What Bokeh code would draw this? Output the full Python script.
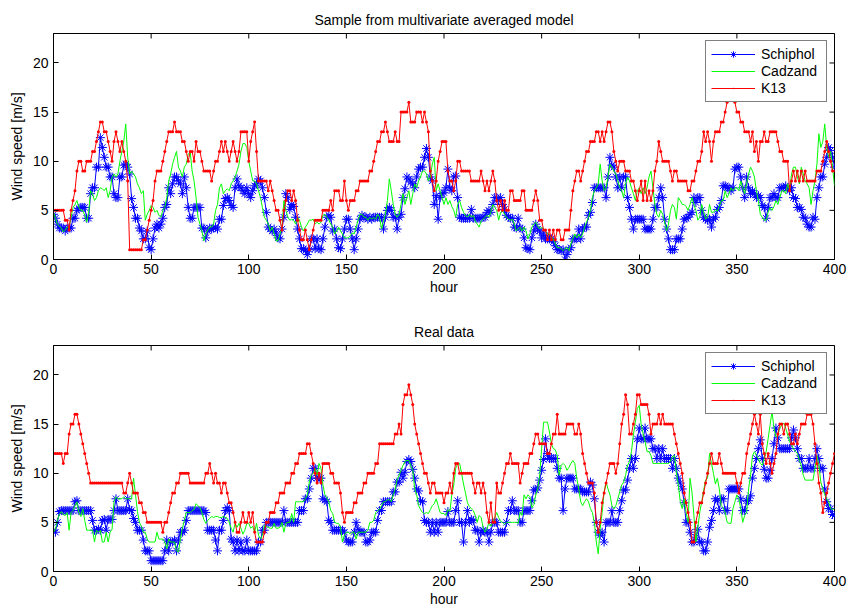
import math
from bokeh.plotting import figure
from bokeh.models import FixedTicker, Range1d
from bokeh.layouts import column
from bokeh.embed import file_html
from bokeh.resources import INLINE

# ---------------- data (hourly wind speed, m/s) ----------------
hours = list(range(401))
x_ticks = [0, 50, 100, 150, 200, 250, 300, 350, 400]
y_ticks = [0, 5, 10, 15, 20]
x_limits = [0, 400]
y_limits = [0, 23]
titles = ["Sample from multivariate averaged model", "Real data"]
station_names = ["Schiphol", "Cadzand", "K13"]

sample_schiphol = [
    4.6,4.2,3.6,3.2,3.2,3.2,2.9,3.2,3.2,3.2,
    4.2,4.2,5.0,5.2,5.3,5.3,5.3,4.2,4.2,6.7,
    7.3,7.3,9.4,9.4,12.4,11.4,10.4,9.4,9.4,8.4,
    8.4,6.7,6.3,6.3,8.4,8.4,9.6,9.7,9.4,8.7,
    6.2,5.3,4.2,4.2,3.2,2.9,2.1,2.1,2.9,1.2,
    1.0,2.1,3.2,3.6,3.2,3.6,4.2,5.3,5.6,7.3,
    6.7,7.7,8.4,8.4,8.0,7.7,6.7,8.4,7.3,5.3,
    4.2,4.2,5.3,5.3,5.3,5.3,3.2,3.2,2.2,2.9,
    3.2,3.1,3.2,3.3,3.1,4.1,4.1,5.5,6.2,6.3,
    6.0,5.5,5.3,7.3,8.2,7.5,7.3,7.0,6.7,7.3,
    6.7,6.3,7.0,7.5,7.7,8.2,8.0,7.3,6.3,4.8,
    3.3,3.1,2.9,3.1,2.7,2.2,2.1,3.1,4.3,6.7,
    6.3,5.1,5.6,5.4,4.3,3.1,2.1,1.1,1.1,0.9,
    0.5,1.0,2.1,2.1,1.1,2.1,1.1,1.0,2.1,3.3,
    4.3,4.5,4.3,2.9,3.1,2.1,1.2,1.1,2.1,3.1,
    4.1,4.1,3.1,2.1,1.0,2.1,3.1,4.1,4.5,4.3,
    4.3,4.1,4.3,4.1,4.3,4.3,4.3,4.3,4.3,3.1,
    4.3,5.0,5.3,5.0,4.3,4.3,3.1,4.3,4.6,6.3,
    7.2,8.4,8.2,7.9,7.7,7.3,8.4,9.2,9.4,9.4,
    10.4,11.3,10.4,8.4,8.0,5.6,6.5,4.1,6.3,6.7,
    6.8,7.3,9.2,7.3,7.0,8.4,8.5,6.3,4.3,4.2,
    4.2,4.2,4.2,4.2,5.1,4.2,4.2,4.2,4.2,4.2,
    4.3,4.3,4.8,5.0,4.8,5.6,6.3,6.3,6.0,6.3,
    5.6,5.1,4.5,4.3,4.2,4.2,3.3,3.2,4.2,3.2,
    3.1,2.2,1.2,1.1,1.0,2.2,2.9,3.6,3.1,2.9,
    2.2,2.7,2.1,2.1,2.1,2.1,1.8,1.4,1.0,1.0,
    0.9,1.0,0.0,0.5,1.0,1.2,2.1,2.1,2.1,3.1,
    2.1,3.1,3.3,3.3,4.5,4.8,5.8,7.3,7.3,7.3,
    7.3,7.3,7.3,6.3,8.4,10.4,9.6,9.4,8.4,7.3,
    8.4,7.3,8.4,8.4,6.3,5.3,4.1,3.1,4.1,4.1,
    4.1,4.1,4.1,3.1,3.1,3.1,3.1,4.1,5.3,5.3,
    6.3,7.3,6.3,4.1,3.1,2.1,1.0,1.0,1.0,2.1,
    2.1,2.1,3.1,4.1,4.2,4.3,4.6,4.8,6.3,5.8,
    6.3,6.3,5.0,4.3,4.1,4.0,4.1,3.3,4.1,4.3,
    5.1,5.3,6.0,7.5,7.5,7.3,7.3,7.0,7.3,9.2,
    9.4,9.4,8.4,7.3,6.3,8.4,7.3,6.7,7.0,6.7,
    6.3,6.5,6.3,5.5,5.3,4.2,5.3,6.3,6.3,6.7,
    6.3,6.3,7.3,7.3,7.3,7.5,7.3,7.0,7.3,6.3,
    6.2,5.3,5.3,5.1,4.3,4.2,3.6,3.3,3.3,4.3,
    4.1,6.3,7.3,8.4,8.4,9.7,10.4,11.4,11.1,10.4,
    9.4]

sample_cadzand = [
    4.8,4.2,3.6,3.4,3.2,2.8,3.0,3.3,3.3,4.3,
    5.3,5.6,6.0,5.3,5.0,5.0,4.5,3.8,4.8,7.0,
    6.7,6.0,6.3,7.0,7.3,7.2,7.0,7.3,6.3,7.0,
    8.4,8.7,8.4,8.7,10.0,11.0,12.0,13.8,10.4,8.7,
    9.0,8.7,8.4,7.7,7.3,6.7,7.0,4.0,4.6,5.0,
    5.5,5.3,4.8,5.0,4.5,4.3,5.0,5.3,6.3,8.0,
    8.7,9.7,10.4,11.0,9.4,9.0,8.4,9.4,9.7,10.7,
    11.0,9.0,8.0,6.3,4.3,3.6,2.9,1.9,2.6,3.0,
    3.3,3.3,3.6,5.0,5.6,7.3,7.7,6.7,7.0,7.2,
    7.0,7.7,8.0,8.4,9.0,9.7,11.0,11.8,11.8,11.4,
    10.0,9.0,8.0,8.0,7.7,7.0,6.3,5.3,4.3,4.0,
    3.6,2.9,3.3,2.6,1.9,1.9,2.6,3.3,6.0,5.0,
    4.3,4.0,4.1,4.0,3.6,4.3,4.0,3.3,2.9,3.3,
    3.6,4.0,4.0,4.1,3.6,3.8,3.6,3.8,4.5,4.6,
    4.3,4.0,3.6,3.3,2.6,2.9,3.3,2.9,2.6,2.2,
    2.2,2.2,2.4,2.7,2.6,3.3,4.0,4.6,4.6,4.3,
    4.3,4.0,4.3,4.1,4.3,4.1,4.6,4.3,3.1,3.9,
    4.6,6.0,8.2,7.0,5.6,4.6,4.3,4.6,5.6,6.7,
    5.6,6.3,7.0,5.6,6.7,7.7,7.3,8.0,8.4,9.0,
    9.0,8.7,8.0,8.4,9.7,10.4,7.0,7.7,7.0,6.3,
    5.6,6.3,5.6,6.0,5.4,5.0,4.3,5.6,6.0,5.3,
    4.8,4.5,4.3,4.6,4.3,4.5,3.9,3.6,3.3,3.9,
    4.1,4.3,4.5,4.3,4.8,5.6,5.3,5.0,4.0,4.8,
    5.0,4.6,4.3,4.1,4.0,4.1,3.6,2.9,3.1,3.3,
    2.9,3.3,2.9,2.1,2.6,3.3,3.6,3.8,3.4,3.1,
    3.3,3.1,2.9,2.6,2.6,2.2,2.1,1.6,1.2,1.2,
    1.1,0.9,1.1,1.2,0.9,1.6,2.1,2.6,2.2,2.6,
    2.2,2.6,3.3,3.8,4.3,5.0,6.3,7.0,7.3,7.7,
    9.7,8.0,7.0,7.3,8.4,9.7,9.4,9.0,8.7,8.0,
    7.3,7.0,6.3,7.7,8.4,8.0,7.3,6.7,6.0,7.0,
    7.3,6.7,7.3,6.7,7.3,8.4,9.0,7.3,5.6,4.6,
    4.3,5.0,4.6,3.8,2.9,3.6,5.0,5.6,5.3,4.1,
    6.3,6.0,5.6,5.6,5.4,5.0,5.6,6.3,5.6,5.0,
    4.0,4.3,5.6,4.8,4.1,4.3,5.6,4.8,4.8,5.1,
    4.9,5.4,6.0,6.0,7.0,6.3,6.7,7.3,7.0,7.3,
    7.3,7.0,8.0,7.3,6.7,7.7,8.7,9.4,9.0,8.4,
    7.0,6.0,4.6,4.3,4.0,4.0,4.8,5.3,5.0,5.4,
    6.0,5.6,6.3,7.0,7.0,6.7,7.7,7.0,8.7,9.4,
    9.4,8.4,7.7,9.4,8.7,8.0,7.7,7.3,5.6,7.0,
    8.0,9.7,12.8,11.4,12.0,13.8,11.4,10.4,11.0,9.4,
    7.5]

sample_k13 = [
    5,5,5,5,5,5,4,4,3,5,
    6,7,9,10,10,9,9,10,10,10,
    11,11,12,13,14,14,13,13,12,11,
    10,12,13,12,11,12,11,10,8,1,
    1,1,1,1,1,1,2,2,3,4,
    5,6,8,9,9,9,10,11,12,13,
    13,13,14,13,13,13,12,12,11,10,
    11,11,10,12,11,11,10,9,9,9,
    9,8,9,10,10,11,12,11,12,11,
    10,11,12,11,10,11,13,13,13,13,
    10,12,13,14,11,8,8,8,8,8,
    7,8,7,6,5,5,4,3,5,6,
    7,7,6,7,6,4,3,2,2,3,
    2,1,2,3,4,4,4,4,5,5,
    5,5,6,5,7,7,7,6,6,8,
    6,5,6,6,6,7,7,8,8,8,
    8,8,9,9,10,11,12,12,13,13,
    14,13,12,12,12,13,12,12,15,15,
    15,15,16,14,14,14,15,15,15,14,
    15,14,13,9,8,7,8,10,11,12,
    12,12,9,8,8,7,8,10,10,9,
    9,9,9,9,8,8,8,8,8,9,
    8,7,8,7,8,9,8,6,5,6,
    5,6,5,5,7,7,6,6,6,6,
    7,7,5,5,5,5,6,7,6,4,
    4,3,3,2,3,2,3,2,3,3,
    2,2,3,3,3,5,7,8,9,9,
    8,9,10,11,11,12,12,12,13,13,
    12,13,12,13,14,14,13,11,10,9,
    10,10,10,9,9,9,8,8,7,6,
    7,8,6,8,6,7,6,7,9,10,
    12,11,10,10,10,10,9,8,9,9,
    8,8,8,8,8,7,7,8,8,9,
    10,10,11,13,12,13,12,10,12,13,
    13,13,14,14,15,16,17,17,17,16,
    15,15,14,14,13,13,13,12,13,11,
    12,10,12,12,13,12,12,13,13,13,
    13,12,11,11,10,10,10,7,8,9,
    8,9,8,9,8,9,8,8,8,8,
    8,9,9,9,10,11,12,11,10,9,
    9]

real_schiphol = [
    4.2,4.0,5.0,6.1,6.2,6.2,6.2,6.2,6.2,6.2,
    6.2,7.1,7.2,6.2,6.2,6.2,6.2,6.2,6.2,6.2,
    5.2,4.2,4.2,4.3,4.2,5.2,5.3,4.2,5.3,5.3,
    5.3,6.2,7.4,6.2,6.2,6.2,6.2,6.2,7.4,6.3,
    6.2,5.4,5.0,4.2,4.2,4.2,3.2,2.1,2.1,2.1,
    1.1,1.1,1.1,1.1,1.1,1.1,1.1,2.1,3.2,2.1,
    3.0,3.0,3.2,2.1,3.2,4.0,4.0,4.2,5.2,6.2,
    6.2,6.2,6.2,6.2,6.2,6.2,6.2,6.2,6.0,4.2,
    4.2,4.2,4.2,3.2,2.1,4.2,4.2,5.2,6.2,6.5,
    6.2,3.3,3.0,2.1,3.2,2.1,3.0,2.1,2.1,3.2,
    2.1,2.1,2.1,2.1,2.1,3.0,3.0,4.2,4.2,5.0,
    5.0,5.0,5.0,5.0,5.0,5.0,5.0,5.0,6.2,5.0,
    5.0,5.0,5.0,5.0,5.0,5.0,6.2,6.2,6.2,7.4,
    7.4,8.4,9.5,10.5,10.5,9.5,9.5,9.5,7.4,7.3,
    7.1,5.2,5.0,4.2,4.2,4.2,4.2,4.2,4.2,4.0,
    3.2,3.0,3.0,3.0,4.0,5.0,4.3,4.0,4.0,4.0,
    3.0,3.0,3.2,4.0,4.0,4.0,5.2,6.2,6.2,7.1,
    7.1,7.1,7.1,7.1,8.1,8.1,9.1,9.1,10.1,9.5,
    10.1,11.2,11.4,11.2,10.4,9.5,8.4,8.2,7.2,7.1,
    5.2,5.0,5.0,4.0,5.0,4.0,5.0,4.0,5.0,5.0,
    5.0,5.0,6.1,5.0,5.0,5.0,6.2,7.2,5.0,5.0,
    3.0,5.0,6.2,5.0,5.3,5.2,4.2,4.2,3.0,4.0,
    4.2,4.0,4.0,3.0,4.0,5.0,5.0,5.0,4.0,4.0,
    4.0,4.0,5.0,6.2,6.2,7.2,6.2,6.2,6.2,5.0,
    5.0,6.2,6.2,6.2,6.2,7.2,8.3,8.3,8.5,9.3,
    10.3,11.4,13.5,12.0,11.5,11.5,11.5,11.5,10.5,9.5,
    9.5,6.2,8.4,9.5,9.5,9.5,9.5,8.4,8.4,8.4,
    8.4,8.1,8.1,8.1,8.1,9.1,8.8,7.4,5.0,4.0,
    3.7,4.0,3.0,5.0,5.0,5.0,6.2,5.0,5.0,5.0,
    6.2,7.2,8.3,8.3,9.3,10.5,11.5,10.5,11.5,13.5,
    14.6,13.5,13.5,14.6,13.5,13.5,13.5,12.5,12.5,11.5,
    12.5,11.5,12.5,11.5,11.5,11.5,11.5,10.5,11.5,10.5,
    9.5,9.0,8.4,7.0,5.0,5.0,4.0,3.0,3.0,3.5,
    4.3,3.0,3.0,2.1,2.1,3.0,4.5,5.2,6.2,7.4,
    7.2,6.2,7.4,7.4,6.2,6.2,8.4,8.4,8.4,8.4,
    8.4,8.4,7.4,6.2,6.2,7.2,7.2,7.7,9.5,10.5,
    11.5,12.5,13.4,11.5,10.4,9.5,9.5,10.3,11.5,13.0,
    14.6,13.6,12.5,12.5,12.5,12.5,12.5,12.5,13.6,14.4,
    13.6,12.5,11.5,11.5,10.5,10.5,10.5,11.5,10.5,10.5,
    11.5,12.5,11.5,10.5,10.5,8.4,7.1,6.4,6.4,5.8,
    5.7]

real_cadzand = [
    4.0,4.3,5.2,5.8,6.1,5.8,5.7,6.0,4.2,6.0,
    6.2,6.7,7.1,6.0,5.6,6.4,5.2,4.2,4.2,4.2,
    4.2,3.0,4.2,4.0,4.2,3.0,3.0,4.0,3.0,4.0,
    4.3,7.1,7.6,7.4,7.4,7.4,7.6,7.4,7.4,7.4,
    7.4,9.5,7.8,6.1,5.0,4.6,4.0,4.0,3.3,3.0,
    3.0,3.0,3.0,4.0,3.3,3.3,3.3,3.0,2.3,3.3,
    3.0,3.0,3.0,2.1,2.0,3.3,4.4,5.2,6.0,6.0,
    6.0,6.2,6.3,6.9,6.7,6.5,6.0,5.3,4.9,5.2,
    5.4,5.6,5.5,5.6,5.6,5.5,5.5,5.6,5.5,5.4,
    5.0,4.4,4.0,4.9,4.5,4.9,4.4,3.8,4.2,4.9,
    4.9,4.4,4.6,4.0,4.9,3.7,3.3,3.7,4.7,4.6,
    4.5,4.4,4.4,4.9,4.4,4.4,4.5,5.0,4.0,4.9,
    5.0,5.0,5.9,5.0,7.1,7.1,7.1,7.1,7.1,7.4,
    7.8,9.1,9.8,10.0,10.5,9.8,11.0,10.5,8.8,7.8,
    7.5,7.1,6.2,5.9,5.0,4.9,4.9,4.5,3.0,3.7,
    4.0,4.0,3.8,4.0,4.0,3.3,4.0,4.0,4.0,4.0,
    4.0,4.2,5.0,5.0,5.2,6.0,6.2,6.3,6.7,7.1,
    7.1,7.3,7.3,7.1,7.8,8.4,9.3,9.8,10.3,10.8,
    11.2,11.3,11.3,10.8,10.3,8.4,7.8,6.7,6.3,6.0,
    5.9,6.0,5.9,6.3,6.7,6.9,7.4,6.7,6.0,5.9,
    5.9,5.7,6.3,6.1,7.8,8.8,10.5,11.0,11.0,10.0,
    8.9,8.0,7.0,6.6,6.4,6.2,5.7,5.0,5.7,5.5,
    4.5,4.0,4.3,5.0,4.6,5.0,5.5,6.0,5.5,5.1,
    5.0,4.8,5.0,5.0,5.0,5.0,5.0,5.0,4.9,6.0,
    5.7,7.8,7.4,7.8,7.6,6.5,6.8,7.8,8.4,9.8,
    12.5,15.2,15.2,15.2,14.2,13.0,12.5,12.4,11.8,9.8,
    10.8,11.0,10.8,10.3,10.6,11.0,11.3,11.0,9.5,8.4,
    7.1,6.7,7.1,7.4,7.1,6.4,6.0,5.0,3.0,1.8,
    4.4,6.0,8.1,9.1,8.4,7.8,6.7,6.4,6.7,7.4,
    8.1,8.8,9.1,9.8,10.8,11.2,12.2,13.9,15.2,16.6,
    16.9,14.9,14.0,13.2,12.2,12.2,11.8,11.0,11.0,11.0,
    11.0,11.0,11.0,11.0,11.0,11.0,11.2,11.7,11.8,10.1,
    8.8,7.1,6.4,7.4,6.0,5.0,9.5,8.1,5.7,3.0,
    4.5,6.0,7.1,8.3,9.3,9.5,12.0,11.0,10.0,8.9,
    9.5,8.4,6.7,6.5,6.0,5.0,4.9,4.9,6.4,7.1,
    7.8,7.4,6.4,5.0,5.7,6.0,8.4,9.8,11.8,12.2,
    11.8,11.5,11.0,10.8,11.5,12.2,13.5,14.9,16.3,14.6,
    13.7,13.9,14.6,14.9,15.1,14.6,13.9,13.2,12.9,12.5,
    12.2,12.0,11.3,10.8,9.8,9.3,9.3,9.3,9.3,9.3,
    10.5,11.8,10.8,9.1,8.4,7.8,7.4,7.1,6.4,6.3,
    6.4]

real_k13 = [
    12,12,12,12,12,11,12,12,14,15,
    15,16,16,15,14,13,12,11,10,9,
    9,9,9,9,9,9,9,9,9,9,
    9,9,9,9,9,9,8,8,9,10,
    9,8,8,8,7,7,6,6,5,5,
    5,5,5,5,5,5,4,5,5,6,
    7,8,8,9,9,10,10,10,10,10,
    9,9,9,9,9,9,9,9,10,10,
    11,10,9,10,9,9,8,9,9,8,
    7,7,6,5,4,4,5,6,5,5,
    6,5,6,4,3,3,3,3,4,5,
    5,6,6,6,7,7,8,8,8,9,
    9,9,10,10,11,11,12,12,12,12,
    13,13,12,11,10,9,10,9,11,11,
    11,11,10,10,9,9,9,8,6,5,
    6,6,6,6,7,7,8,8,8,9,
    9,10,10,10,10,11,11,13,13,13,
    13,13,13,13,13,14,14,15,14,17,
    18,18,19,18,17,15,14,13,12,11,
    10,10,9,8,9,9,8,8,8,8,
    7,8,8,9,8,10,11,11,10,10,
    10,10,10,10,10,9,8,9,9,8,
    9,8,6,5,7,5,5,9,8,8,
    9,10,11,11,12,11,11,11,11,9,
    10,11,11,11,12,12,13,14,14,13,
    13,13,13,12,12,13,14,14,16,14,
    14,14,14,15,15,15,15,14,14,15,
    14,12,11,10,9,9,9,8,5,4,
    5,7,8,9,10,11,11,11,10,11,
    13,15,16,18,17,14,14,15,16,18,
    18,17,17,17,17,16,14,15,15,15,
    16,15,16,15,15,15,15,15,14,13,
    12,11,10,8,7,6,5,3,3,5,
    6,7,7,8,9,10,11,12,11,11,
    11,12,11,10,10,10,10,10,10,10,
    9,8,9,10,10,12,13,14,15,16,
    15,14,16,13,12,11,12,11,10,11,
    12,14,15,15,14,15,15,14,13,13,
    14,13,14,15,15,15,16,16,16,15,
    13,11,9,8,6,7,8,9,10,11,
    12]

# ---------------- styling ----------------
FONT = "Liberation Sans"
FS = "14px"
C_SCH, C_CAD, C_K13 = "#0000ff", "#00ff00", "#ff0000"


def style_axis(ax, ticks):
    ax.ticker = FixedTicker(ticks=ticks)
    ax.major_tick_in = 5
    ax.major_tick_out = 0
    ax.minor_tick_line_color = None
    ax.major_tick_line_color = "black"
    ax.axis_line_color = "black"
    ax.major_label_text_font = FONT
    ax.major_label_text_color = "black"
    ax.major_label_text_font_size = FS
    ax.axis_label_text_font = FONT
    ax.axis_label_text_font_size = FS
    ax.axis_label_text_font_style = "normal"
    ax.axis_label_text_color = "black"


def make_panel(title, sch, cad, k13, top, bottom):
    p = figure(width=850, height=top + 226 + bottom,
               x_range=Range1d(*x_limits), y_range=Range1d(*y_limits),
               output_backend="svg", toolbar_location=None,
               min_border_left=53, min_border_right=16,
               min_border_top=top, min_border_bottom=bottom,
               background_fill_color="white", border_fill_color="white")
    p.title.text = title
    p.title.text_font = FONT
    p.title.text_font_size = FS
    p.title.text_font_style = "normal"
    p.title.text_color = "black"
    p.title.align = "center"
    p.title.standoff = 11

    p.xgrid.visible = False
    p.ygrid.visible = False
    p.outline_line_color = "black"
    p.outline_line_width = 1
    p.outline_line_alpha = 1

    style_axis(p.xaxis[0], x_ticks)
    style_axis(p.yaxis[0], y_ticks)
    p.xaxis.axis_label = "hour"
    p.yaxis.axis_label = "Wind speed [m/s]"
    p.xaxis.major_label_standoff = 4
    p.yaxis.major_label_standoff = 5
    p.xaxis.axis_label_standoff = 2
    p.yaxis.axis_label_standoff = 5

    # mirrored inward tick marks on the top and right edges of the box
    p.scatter(x_ticks, [y_limits[1]] * len(x_ticks), marker="dash", angle=math.pi / 2,
              size=10, line_color="black", line_width=1)
    p.scatter([x_limits[1]] * len(y_ticks), y_ticks, marker="dash",
              size=10, line_color="black", line_width=1)

    xs = hours[:len(sch)]
    p.line(xs, sch, line_color=C_SCH, line_width=1, legend_label=station_names[0])
    p.scatter(xs, sch, marker="asterisk", size=9, line_color=C_SCH, line_width=1,
              legend_label=station_names[0])
    xc = hours[:len(cad)]
    p.line(xc, cad, line_color=C_CAD, line_width=1, legend_label=station_names[1])
    xk = hours[:len(k13)]
    p.line(xk, k13, line_color=C_K13, line_width=1, legend_label=station_names[2])
    p.scatter(xk, k13, marker="dot", size=12, line_color=C_K13, fill_color=C_K13,
              legend_label=station_names[2])

    lg = p.legend[0]
    lg.location = "top_right"
    lg.margin = 7
    lg.padding = 5
    lg.spacing = 1
    lg.glyph_width = 44
    lg.glyph_height = 16
    lg.label_height = 16
    lg.label_width = 60
    lg.label_standoff = 6
    lg.label_text_font = FONT
    lg.label_text_font_size = FS
    lg.label_text_color = "black"
    lg.border_line_color = "black"
    lg.border_line_width = 1
    lg.background_fill_color = "white"
    lg.background_fill_alpha = 1
    return p


p1 = make_panel(titles[0], sample_schiphol, sample_cadzand, sample_k13, 33, 47)
p2 = make_panel(titles[1], real_schiphol, real_cadzand, real_k13, 39, 41)
p = column(p1, p2, spacing=0)

open("out.html", "w").write(file_html(p, INLINE))
